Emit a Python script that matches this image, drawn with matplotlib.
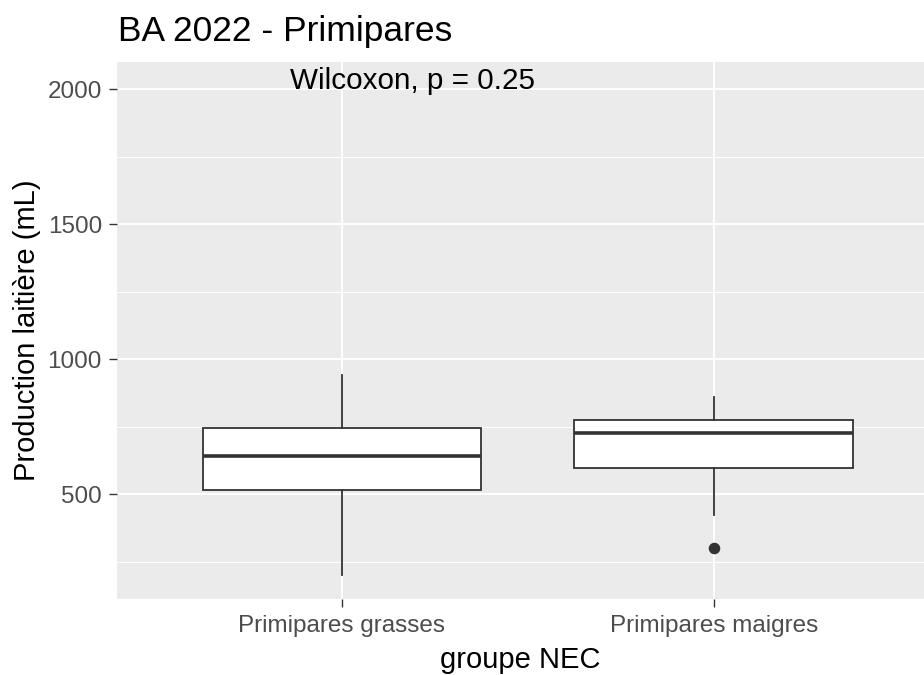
import matplotlib.pyplot as plt
from matplotlib.ticker import MultipleLocator

plt.rcParams['font.family'] = ['Liberation Sans', 'DejaVu Sans']

# data (mL)
groups = ["Primipares grasses", "Primipares maigres"]
q1 = [516, 596]
med = [643, 726]
q3 = [744, 775]
whislo = [201, 423]
whishi = [942, 859]
fliers = [[], [300]]
annot = "Wilcoxon, p = 0.25"

fig = plt.figure(figsize=(9.24, 6.75), dpi=100)
ax = fig.add_axes([0.1266, 0.1126, 0.8734, 0.7955])
ax.set_facecolor('#EBEBEB')

stats = []
for i in range(len(groups)):
    stats.append(dict(label=groups[i], q1=q1[i], med=med[i], q3=q3[i],
                      whislo=whislo[i], whishi=whishi[i], fliers=fliers[i]))

ax.bxp(stats, positions=[1, 2], widths=0.75, patch_artist=True, showcaps=False,
       boxprops=dict(facecolor='white', edgecolor='#333333', linewidth=1.3),
       medianprops=dict(color='#333333', linewidth=2.6),
       whiskerprops=dict(color='#333333', linewidth=1.3),
       flierprops=dict(marker='o', markerfacecolor='#333333', markeredgecolor='#333333',
                       markersize=7.3), zorder=3)

ax.set_xlim(0.395, 2.565)
ax.set_ylim(112, 2101)
ax.yaxis.set_major_locator(MultipleLocator(500))
ax.yaxis.set_minor_locator(MultipleLocator(250))
ax.set_xticks([1, 2])
ax.set_xticklabels(groups)
ax.grid(which='major', color='white', linewidth=1.4, zorder=0)
ax.grid(which='minor', axis='y', color='white', linewidth=0.7, zorder=0)
ax.set_axisbelow(True)
for s in ax.spines.values():
    s.set_visible(False)
ax.tick_params(which='major', length=5.8, width=1, color='#333333', labelcolor='#4D4D4D',
               labelsize=17.5)
ax.tick_params(axis='y', pad=5)
ax.tick_params(axis='x', pad=6)
ax.tick_params(which='minor', length=0)

ax.text(0.86, 2030, annot, fontsize=21.3, ha='left', va='center', color='black')

ax.set_xlabel("groupe NEC", fontsize=21, labelpad=6)
ax.set_ylabel("Production laitière (mL)", fontsize=21, labelpad=5)
fig.text(0.128, 0.953, "BA 2022 - Primipares", fontsize=25.5, ha='left', va='center')

fig.savefig("out.png", dpi=100)
